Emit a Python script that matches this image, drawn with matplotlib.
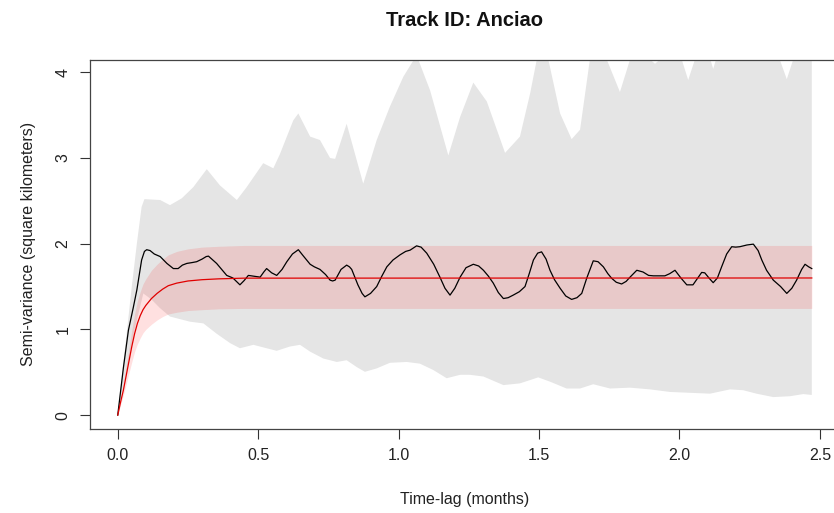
import numpy as np
import matplotlib
matplotlib.use("Agg")
import matplotlib.pyplot as plt

plt.rcParams['font.family'] = ['Liberation Sans', 'DejaVu Sans']

# empirical semi-variance (black line)
lag = [0, .02, .038, .055, .068, .085, .095, .103, .115, .13, .151, .175, .198, .215, .23,
       .246, .265, .281, .30, .315, .323, .335, .352, .37, .388, .41, .435, .45, .465, .485,
       .507, .52, .530, .548, .566, .585, .602, .622, .643, .66, .685, .70, .720, .74, .756,
       .765, .774, .795, .815, .825, .833, .855, .870, .880, .90, .922, .94, .958, .98, 1.005,
       1.025, 1.041, 1.064, 1.08, 1.100, 1.125, 1.147, 1.165, 1.183, 1.20, 1.219, 1.24, 1.266,
       1.285, 1.302, 1.32, 1.337, 1.355, 1.373, 1.39, 1.408, 1.43, 1.450, 1.465, 1.480, 1.495,
       1.509, 1.525, 1.539, 1.555, 1.575, 1.595, 1.616, 1.635, 1.652, 1.67, 1.693, 1.71, 1.729,
       1.745, 1.759, 1.775, 1.794, 1.81, 1.824, 1.848, 1.87, 1.89, 1.907, 1.93, 1.948, 1.965,
       1.984, 2.005, 2.026, 2.048, 2.065, 2.079, 2.09, 2.105, 2.120, 2.135, 2.150, 2.168, 2.186,
       2.20, 2.215, 2.24, 2.263, 2.28, 2.293, 2.31, 2.334, 2.36, 2.382, 2.40, 2.417, 2.435,
       2.447, 2.46, 2.471]
svf = [0, .55, .99, 1.25, 1.46, 1.81, 1.91, 1.93, 1.92, 1.88, 1.85, 1.77, 1.71, 1.71, 1.75,
       1.77, 1.78, 1.79, 1.82, 1.85, 1.855, 1.82, 1.77, 1.70, 1.63, 1.60, 1.52, 1.57, 1.63, 1.62,
       1.61, 1.67, 1.71, 1.66, 1.63, 1.70, 1.79, 1.88, 1.93, 1.86, 1.76, 1.73, 1.70, 1.64, 1.575,
       1.565, 1.575, 1.70, 1.75, 1.73, 1.70, 1.52, 1.42, 1.38, 1.42, 1.50, 1.62, 1.73, 1.81, 1.87,
       1.91, 1.925, 1.975, 1.96, 1.89, 1.76, 1.61, 1.48, 1.40, 1.48, 1.61, 1.72, 1.76,
       1.74, 1.69, 1.62, 1.54, 1.43, 1.36, 1.37, 1.40, 1.44, 1.50, 1.65, 1.81, 1.89,
       1.905, 1.82, 1.69, 1.58, 1.48, 1.39, 1.35, 1.37, 1.42, 1.60, 1.80, 1.79, 1.73,
       1.65, 1.595, 1.55, 1.53, 1.56, 1.61, 1.69, 1.67, 1.63, 1.625, 1.625, 1.625, 1.65,
       1.69, 1.60, 1.52, 1.52, 1.60, 1.665, 1.66, 1.60, 1.545, 1.60, 1.73, 1.88, 1.965,
       1.96, 1.965, 1.985, 1.995, 1.92, 1.81, 1.69, 1.575, 1.50, 1.42, 1.48, 1.575, 1.70,
       1.76, 1.73, 1.71]

# grey confidence band of the empirical variogram
ci_hi_lag = [0, .03, .05, .068, .085, .095, .151, .186, .228, .269, .317, .364, .424, .459, .518,
             .554, .578, .590, .625, .643, .685, .720, .756, .774, .815, .874, .922, .969, 1.017,
             1.064, 1.112, 1.177, 1.219, 1.266, 1.314, 1.379, 1.432, 1.468, 1.492, 1.51, 1.533,
             1.575, 1.616, 1.646, 1.681, 1.71, 1.741, 1.788, 1.824, 1.86, 1.895, 1.913, 1.93,
             1.97, 2.008, 2.031, 2.055, 2.09, 2.110, 2.120, 2.13, 2.2, 2.357, 2.382, 2.405,
             2.44, 2.471]
ci_hi = [0, .9, 1.5, 2.0, 2.43, 2.52, 2.51, 2.45, 2.53, 2.66, 2.87, 2.68, 2.51, 2.66, 2.94,
         2.88, 3.05, 3.15, 3.44, 3.52, 3.25, 3.21, 3.00, 2.99, 3.40, 2.70, 3.21, 3.60, 3.95,
         4.2, 3.79, 3.03, 3.48, 3.88, 3.66, 3.06, 3.25, 3.75, 4.15, 4.4, 4.15,
         3.52, 3.22, 3.33, 4.15, 4.4, 4.15, 3.77, 4.15, 4.4, 4.15, 4.10, 4.15,
         4.4, 4.15, 3.91, 4.15, 4.3, 4.15, 4.04, 4.15, 4.4, 4.15, 3.92, 4.15,
         4.4, 4.4]
ci_lo_lag = [0, .03, .06, .091, .12, .15, .186, .257, .305, .352, .400, .435, .483, .530, .566,
             .613, .649, .685, .732, .780, .815, .851, .880, .922, .969, 1.029, 1.076, 1.124,
             1.171, 1.219, 1.254, 1.302, 1.373, 1.432, 1.497, 1.539, 1.598, 1.646, 1.693, 1.753,
             1.824, 1.895, 1.966, 2.037, 2.109, 2.180, 2.227, 2.274, 2.334, 2.393, 2.441, 2.471]
ci_lo = [0, .5, 1.0, 1.42, 1.35, 1.25, 1.15, 1.09, 1.07, .95, .84, .78, .82, .78, .75,
         .80, .82, .74, .66, .62, .64, .56, .505, .545, .61, .62, .60, .525,
         .43, .47, .47, .45, .35, .37, .44, .39, .31, .31, .36, .31,
         .32, .30, .27, .26, .25, .30, .29, .25, .21, .22, .245, .235]

# fitted model (red) and its band
mod_lag = [0, .01, .02, .03, .04, .05, .06, .07, .08, .09, .10, .12, .14, .16, .18, .21, .25,
           .30, .36, .45, 2.471]
mod = [0, .15, .29, .46, .63, .80, .95, 1.07, 1.16, 1.23, 1.28, 1.36, 1.42, 1.47, 1.51, 1.54,
       1.565, 1.58, 1.59, 1.598, 1.60]
mod_hi = [0, .19, .36, .57, .78, .99, 1.18, 1.33, 1.44, 1.53, 1.59, 1.69, 1.76, 1.82, 1.87,
          1.91, 1.94, 1.96, 1.97, 1.98, 1.98]
mod_lo = [0, .12, .23, .36, .49, .62, .74, .83, .90, .96, 1.00, 1.06, 1.11, 1.15, 1.18, 1.20,
          1.22, 1.23, 1.24, 1.245, 1.245]

fig = plt.figure(figsize=(8.34, 5.13), dpi=100)
W, H = 834, 513
ax = fig.add_axes([90 / W, 1 - 428.7 / H, (839.3 - 90) / W, (428.7 - 60) / H])

ax.fill(np.r_[ci_hi_lag, ci_lo_lag[::-1]], np.r_[ci_hi, ci_lo[::-1]],
        color='#e5e5e5', lw=0, zorder=1)
ax.fill_between(mod_lag, mod_lo, mod_hi, color='red', alpha=0.12, lw=0, zorder=2)
ax.plot(lag, svf, color='black', lw=0.9, zorder=3)
ax.plot(mod_lag, mod, color='#e00000', lw=0.9, zorder=4)

ax.set_xlim(-0.0988, 2.569)
ax.set_ylim(-0.159, 4.144)
ax.set_xticks([0, 0.5, 1.0, 1.5, 2.0, 2.5])
ax.set_xticklabels(['0.0', '0.5', '1.0', '1.5', '2.0', '2.5'])
ax.set_yticks([0, 1, 2, 3, 4])
ax.set_yticklabels(['0', '1', '2', '3', '4'], rotation=90, va='center')
ax.tick_params(direction='out', length=7, width=0.8, color='#333333',
               labelsize=11.5, labelcolor='#222222', pad=7)
for s in ax.spines.values():
    s.set_linewidth(0.9)
    s.set_color('#444444')

ax.set_xlabel('Time-lag (months)', fontsize=11.5, color='#222222', labelpad=21)
ax.set_ylabel('Semi-variance (square kilometers)', fontsize=11.5, color='#222222', labelpad=14)
fig.text(465 / W, 1 - 20 / H, 'Track ID: Anciao', ha='center', va='center',
         fontsize=14.5, fontweight='bold', color='#111111')

fig.savefig('out.png', dpi=100)
